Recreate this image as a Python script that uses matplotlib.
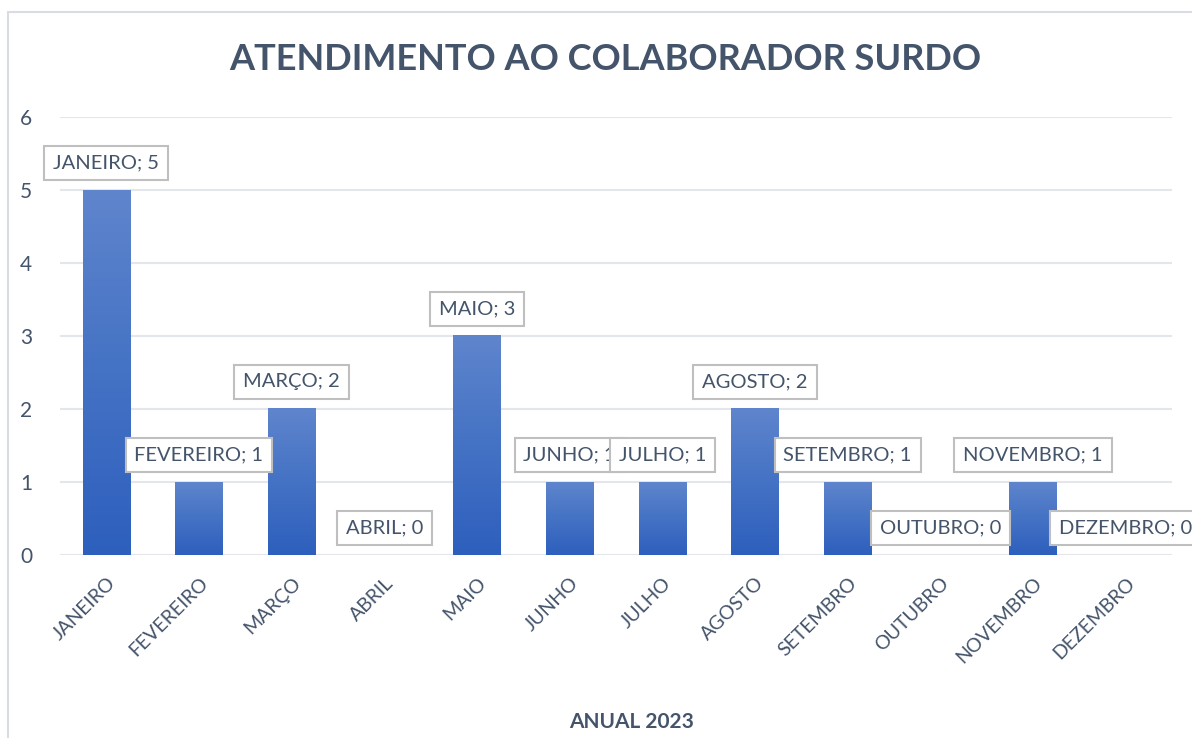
import matplotlib
matplotlib.use("Agg")
import matplotlib.pyplot as plt
import numpy as np
from matplotlib.patches import Rectangle
from matplotlib.colors import LinearSegmentedColormap

months = ["JANEIRO", "FEVEREIRO", "MARÇO", "ABRIL", "MAIO", "JUNHO",
          "JULHO", "AGOSTO", "SETEMBRO", "OUTUBRO", "NOVEMBRO", "DEZEMBRO"]
values = [5, 1, 2, 0, 3, 1, 1, 2, 1, 0, 1, 0]
title = "ATENDIMENTO AO COLABORADOR SURDO"
xlabel = "ANUAL 2023"

FONT = "Lato"
TXT = "#44546a"
plt.rcParams["font.family"] = [FONT, "DejaVu Sans"]

fig = plt.figure(figsize=(11.92, 7.38), dpi=100)
fig.patch.set_facecolor("white")
# chart border
fig.patches.append(Rectangle((8/1192, -0.1), 1.2, 1 - 12/738 + 0.1,
                             transform=fig.transFigure, fill=False,
                             edgecolor="#d9dde3", linewidth=1.5))

ax = fig.add_axes([60/1192, 1-555/738, 1112/1192, (555-117)/738])
x = np.arange(len(months))
width = 0.51
bars = ax.bar(x, values, width=width, color="none", zorder=3)

cmap = LinearSegmentedColormap.from_list("g", ["#2d5fbd", "#4472c4", "#5f85cd"])
grad = np.linspace(0, 1, 256).reshape(-1, 1)
for b in bars:
    h = b.get_height()
    if h <= 0:
        continue
    x0 = b.get_x()
    ax.imshow(grad, extent=[x0, x0 + b.get_width(), 0, h], origin="lower",
              aspect="auto", cmap=cmap, zorder=3, interpolation="bilinear")

ax.set_xlim(-0.5, len(months) - 0.5)
ax.set_ylim(0, 6)
ax.set_yticks(range(0, 7))
ax.grid(axis="y", color="#e3e6ea", linewidth=1.5, zorder=0)
ax.set_axisbelow(True)
for s in ax.spines.values():
    s.set_visible(False)
ax.tick_params(axis="both", length=0)
ax.tick_params(axis="y", labelsize=15, labelcolor=TXT, pad=20)
ax.set_xticks(x)
ax.set_xticklabels(months, rotation=45, ha="right", va="top",
                   rotation_mode="anchor", fontsize=14, color=TXT)
ax.tick_params(axis="x", pad=14)

for xi, (m, v) in enumerate(zip(months, values)):
    ax.annotate(f"{m}; {v}", xy=(xi, v), xytext=(0, 19.5),
                textcoords="offset points", ha="center", va="center",
                fontsize=14.5, color=TXT, zorder=5, annotation_clip=False,
                bbox=dict(boxstyle="square,pad=0.44", fc="white",
                          ec="#bfbfbf", lw=1.5))

fig.text(605/1192, 1-60/738, title, ha="center", va="center",
         fontsize=26, fontweight="bold", color=TXT)
fig.text(632/1192, 1-722/738, xlabel, ha="center", va="center",
         fontsize=15, fontweight="bold", color=TXT)

fig.savefig("out.png", dpi=100)
